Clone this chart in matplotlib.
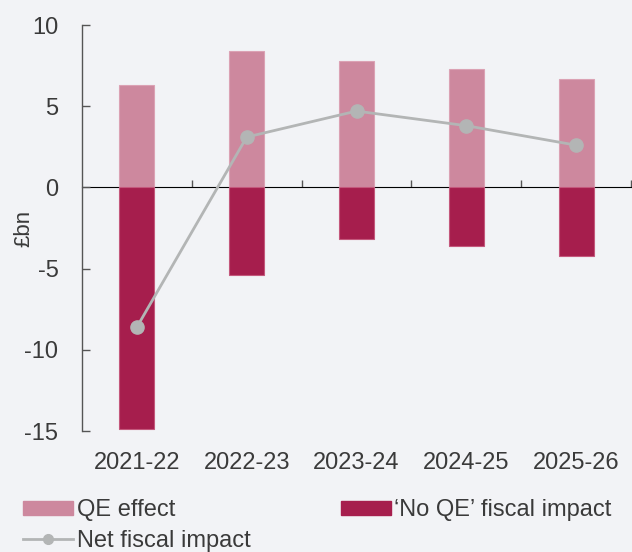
import matplotlib
matplotlib.use("Agg")
import matplotlib.pyplot as plt
from matplotlib.lines import Line2D
from matplotlib.patches import Patch

anos = ["2021-22", "2022-23", "2023-24", "2024-25", "2025-26"]
qe_effect = [6.3, 8.4, 7.8, 7.3, 6.7]
no_qe = [-14.9, -5.4, -3.2, -3.6, -4.2]
net_impact = [-8.6, 3.1, 4.7, 3.8, 2.6]

bg = "#f2f3f6"
rosa = "#cd889e"
vinho = "#a61e4d"
cinza = "#b3b5b5"
texto = "#3a3a3a"
eixo = "#555555"

plt.rcParams["font.family"] = ["Liberation Sans", "DejaVu Sans"]

fig = plt.figure(figsize=(6.32, 5.52), dpi=100, facecolor=bg)
ax = fig.add_axes([82 / 632, 1 - 431 / 552, 549 / 632, 406 / 552])
ax.set_facecolor(bg)

x = list(range(len(anos)))
ax.bar(x, qe_effect, width=0.32, color=rosa, edgecolor="#dba2b4", linewidth=0.8, zorder=2)
ax.bar(x, no_qe, width=0.32, color=vinho, edgecolor="#c4587c", linewidth=0.8, zorder=2)
ax.plot(x, net_impact, "o-", color=cinza, linewidth=2, markersize=9.5, zorder=4)

ax.set_xlim(-0.5, len(anos) - 0.5)
ax.set_ylim(-15, 10)
ax.set_yticks([-15, -10, -5, 0, 5, 10])
ax.set_yticklabels(["-15", "-10", "-5", "0", "5", "10"])
ax.tick_params(axis="y", direction="in", length=6, width=1, color=eixo,
               labelsize=17, labelcolor=texto, pad=17)
ax.set_xticks(x)
ax.set_xticklabels(anos)
ax.tick_params(axis="x", length=0, labelsize=17, labelcolor=texto, pad=15)

for s in ["top", "right", "bottom"]:
    ax.spines[s].set_visible(False)
ax.spines["left"].set_color(eixo)
ax.spines["left"].set_linewidth(1)

# linha do zero com marcas entre categorias
zero_frac = (0 - (-15)) / (10 - (-15))
sec = ax.secondary_xaxis(zero_frac)
sec.set_xticks([i + 0.5 for i in x])
sec.set_xticklabels([])
sec.tick_params(axis="x", direction="out", length=5, width=1, color=eixo)
sec.spines["bottom"].set_color(eixo)
sec.spines["bottom"].set_linewidth(1.2)

ax.set_ylabel("£bn", fontsize=16, color=texto)
ax.yaxis.set_label_coords(-0.087, 0.5)

handles = [
    Patch(facecolor=rosa, edgecolor=rosa, label="QE effect"),
    Line2D([0], [0], color=cinza, linewidth=2, marker="o", markersize=7, label="Net fiscal impact"),
    Patch(facecolor=vinho, edgecolor=vinho, label="\u2018No QE\u2019 fiscal impact"),
]
fig.legend(handles=handles, loc="upper left", bbox_to_anchor=(14 / 632, 1 - 490 / 552),
           ncol=2, frameon=False, fontsize=17, handlelength=2.1, handleheight=0.55,
           handletextpad=0.15, columnspacing=3.85, labelspacing=0.35, borderaxespad=0,
           labelcolor=texto)

plt.savefig("out.png", dpi=100, facecolor=bg)
plt.close()
